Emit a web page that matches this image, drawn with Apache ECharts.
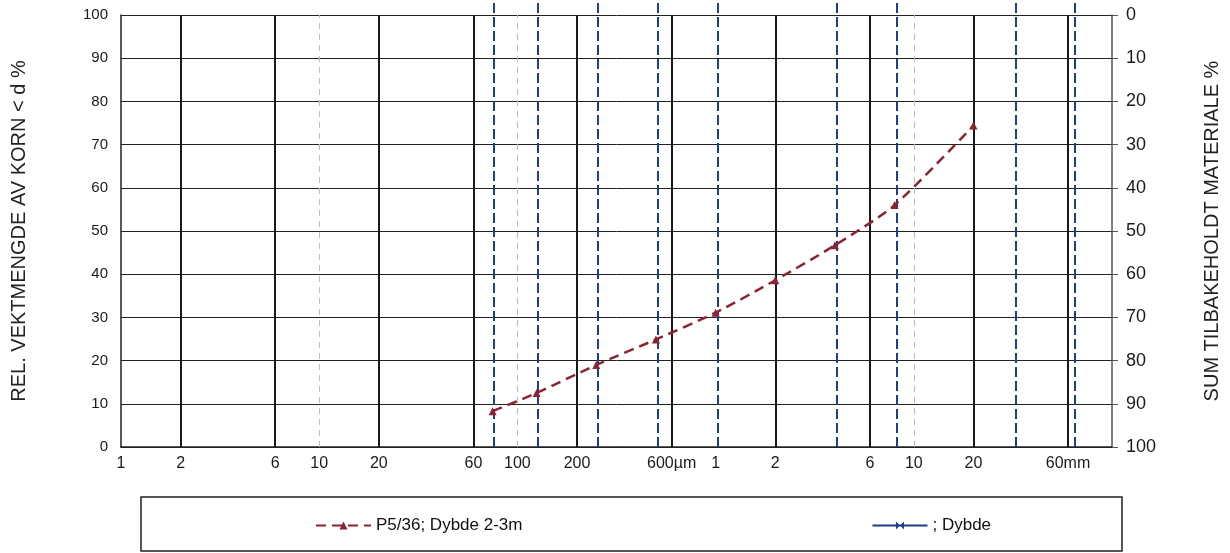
<!DOCTYPE html>
<html>
<head>
<meta charset="utf-8">
<title>Kornfordeling</title>
<script src="https://cdn.jsdelivr.net/npm/echarts@6.0.0/dist/echarts.min.js"></script>
<style>
  html, body { margin: 0; padding: 0; background: #fff; }
  #chart { width: 1230px; height: 553px; }
</style>
</head>
<body>
<div id="chart"></div>
<script>
// grain size (µm) and passing (%)
var sieveSizes = [75, 125, 250, 500, 1000, 2000, 4000, 8000, 20000];
var passingP536 = [8.3, 12.5, 19.0, 24.9, 31.1, 38.6, 46.7, 56.0, 74.4];
var sieveSizes2 = [];
var passing2 = [];

// x axis labels (µm)
var tickValues = [1, 2, 6, 10, 20, 60, 100, 200, 600, 1000, 2000, 6000, 10000, 20000, 60000];
var tickLabels = ['1', '2', '6', '10', '20', '60', '100', '200', '600µm', '1', '2', '6', '10', '20', '60mm'];

// vertical grid lines (µm)
var mainLines = [2, 6, 20, 60, 200, 600, 2000, 6000, 20000, 60000];
var minorLines = [10, 100, 10000];
var sieveLines = [75, 125, 250, 500, 1000, 4000, 8000, 31500, 63000];

var seriesNames = ['P5/36; Dybde 2-3m', '; Dybde'];
var leftTitle = 'REL. VEKTMENGDE AV KORN < d %';
var rightTitle = 'SUM TILBAKEHOLDT MATERIALE %';

var font = '"Liberation Sans", Arial, sans-serif';

function pairs(xs, ys) {
    return xs.map(function (x, i) { return [x, ys[i]]; });
}

function vLines(values, names) {
    return values.map(function (v, i) {
        return { xAxis: v, name: names ? names[i] : '' };
    });
}

function lineHolder(lines, style, extra) {
    var s = {
        type: 'line',
        data: [],
        silent: true,
        z: 1,
        markLine: {
            silent: true,
            symbol: ['none', 'none'],
            label: { show: false },
            lineStyle: style,
            data: lines
        }
    };
    for (var k in extra) s[k] = extra[k];
    return s;
}

var chart = echarts.init(document.getElementById('chart'));

var option = {
    animation: false,
    backgroundColor: '#fff',
    textStyle: { fontFamily: font, color: '#1a1a1a' },
    grid: [
        { left: 121, top: 15, width: 994, height: 432 },
        { left: 121, top: 0, width: 994, height: 447 }
    ],
    xAxis: [
        {
            type: 'log', gridIndex: 0, min: 1, max: 100000,
            axisLine: { lineStyle: { color: '#222', width: 1.5 } },
            axisTick: { show: false },
            axisLabel: { show: false },
            splitLine: { show: false }
        },
        { type: 'log', gridIndex: 1, min: 1, max: 100000, show: false }
    ],
    yAxis: [
        {
            type: 'value', gridIndex: 0, min: 0, max: 100, interval: 10, position: 'left',
            name: leftTitle, nameLocation: 'middle', nameGap: 92, nameRotate: 90,
            nameTextStyle: { fontSize: 20, color: '#222' },
            axisLine: { show: true, lineStyle: { color: '#222', width: 1.5 } },
            axisTick: { show: false },
            axisLabel: { fontSize: 15, margin: 13, color: '#1a1a1a', padding: [8, 0, 0, 0] },
            splitLine: { lineStyle: { color: '#222', width: 1 } }
        },
        {
            type: 'value', gridIndex: 0, min: 0, max: 100, interval: 10, position: 'right', inverse: true,
            name: rightTitle, nameLocation: 'middle', nameGap: 90, nameRotate: 90,
            nameTextStyle: { fontSize: 20, color: '#222' },
            axisLine: { show: true, lineStyle: { color: '#555', width: 1.5 } },
            axisTick: { show: true, inside: false, length: 6, lineStyle: { color: '#555' } },
            axisLabel: { fontSize: 18, margin: 14, color: '#1a1a1a' },
            splitLine: { show: false }
        },
        { type: 'value', gridIndex: 1, min: 0, max: 100, show: false }
    ],
    legend: {
        data: seriesNames,
        left: 310,
        top: 512,
        itemWidth: 55,
        itemHeight: 10,
        itemGap: 349,
        textStyle: { fontSize: 17, color: '#111', fontFamily: font }
    },
    graphic: [{
        type: 'rect',
        silent: true,
        shape: { x: 141, y: 497, width: 981, height: 54 },
        style: { fill: 'none', stroke: '#222', lineWidth: 1.5 }
    }],
    series: [
        lineHolder(vLines(minorLines), { color: '#bdbdbd', width: 1, type: [6, 5] }, {}),
        lineHolder(vLines(mainLines), { color: '#1a1a1a', width: 2, type: 'solid' }, {}),
        lineHolder(vLines(sieveLines), { color: '#1c3f8c', width: 2, type: [10, 4] },
            { xAxisIndex: 1, yAxisIndex: 2, z: 2 }),
        {
            type: 'line',
            data: [],
            silent: true,
            markLine: {
                silent: true,
                symbol: ['none', 'none'],
                lineStyle: { color: 'rgba(0,0,0,0)', width: 0 },
                label: {
                    show: true, position: 'start', formatter: '{b}', distance: 9,
                    fontSize: 16, color: '#1a1a1a', fontFamily: font
                },
                data: vLines(tickValues, tickLabels)
            }
        },
        {
            name: seriesNames[0],
            type: 'line',
            data: pairs(sieveSizes, passingP536),
            smooth: 0.25,
            symbol: 'triangle',
            symbolSize: 8,
            z: 5,
            color: '#8c2333',
            lineStyle: { color: '#8c2333', width: 2.5, type: [10, 6] },
            itemStyle: { color: '#8c2333' }
        },
        {
            name: seriesNames[1],
            type: 'line',
            data: pairs(sieveSizes2, passing2),
            symbol: 'path://M0,0L10,10L10,0L0,10Z',
            symbolSize: 8,
            color: '#1c3f8c',
            lineStyle: { color: '#1c3f8c', width: 2 },
            itemStyle: { color: '#1c3f8c' }
        }
    ]
};

chart.setOption(option);
</script>
</body>
</html>
